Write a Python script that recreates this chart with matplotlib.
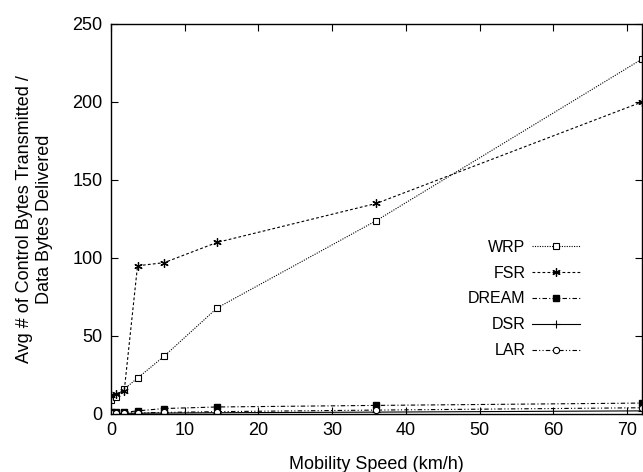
import matplotlib
matplotlib.use("Agg")
import matplotlib.pyplot as plt

speed = [0, 0.72, 1.8, 3.6, 7.2, 14.4, 36, 72]
wrp = [9, 11, 16, 23, 37, 68, 124, 227.5]
fsr = [12, 13, 15, 95, 97, 110, 135, 200]
dream = [1, 1, 1, 2, 3.5, 4.5, 5.5, 7]
dsr = [0.3, 0.3, 0.4, 0.5, 0.6, 0.8, 1.2, 2]
lar = [0.5, 0.5, 0.6, 0.7, 1, 1.5, 2.5, 4]

xticks = [0, 10, 20, 30, 40, 50, 60, 70]
yticks = [0, 50, 100, 150, 200, 250]

plt.rcParams['font.family'] = ['Liberation Sans', 'DejaVu Sans']

fig = plt.figure(figsize=(6.43, 4.72), dpi=100)
ax = fig.add_axes([0.1726, 0.1229, 0.8258, 0.8263])

lw = 0.8
ax.plot(speed, wrp, color='black', lw=lw, linestyle=(0, (1, 1.2)), marker='s',
        markersize=5, markerfacecolor='white', markeredgewidth=0.8, label='WRP')
ax.plot(speed, fsr, color='black', lw=lw, linestyle=(0, (2.5, 2)), marker=(6, 2, 0),
        markersize=6, markeredgewidth=0.9, label='FSR')
ax.plot(speed, dream, color='black', lw=lw, linestyle=(0, (4, 2, 1, 2)), marker='s',
        markersize=5, markerfacecolor='black', label='DREAM')
ax.plot(speed, dsr, color='black', lw=lw, linestyle='-', marker='+',
        markersize=6, markeredgewidth=0.8, label='DSR')
ax.plot(speed, lar, color='black', lw=lw, linestyle=(0, (4, 2, 1, 2, 1, 2)), marker='o',
        markersize=4.5, markerfacecolor='white', markeredgewidth=0.8, label='LAR')

ax.set_xlim(0, 72)
ax.set_ylim(0, 250)
ax.set_xticks(xticks)
ax.set_yticks(yticks)
ax.tick_params(direction='in', top=True, right=True, length=5, width=0.8,
               labelsize=13, pad=6)
for s in ax.spines.values():
    s.set_linewidth(1.0)

ax.set_xlabel('Mobility Speed (km/h)', fontsize=13, labelpad=12)
ax.set_ylabel('Avg # of Control Bytes Transmitted /\nData Bytes Delivered',
              fontsize=13, labelpad=14, linespacing=1.2)

leg = ax.legend(loc='center right', bbox_to_anchor=(0.91, 0.295), frameon=False,
                markerfirst=False, numpoints=1, handlelength=3.0, fontsize=11.5,
                labelspacing=0.68, handletextpad=0.4)
for t in leg.get_texts():
    t.set_ha('right')

fig.savefig('out.png', dpi=100)
